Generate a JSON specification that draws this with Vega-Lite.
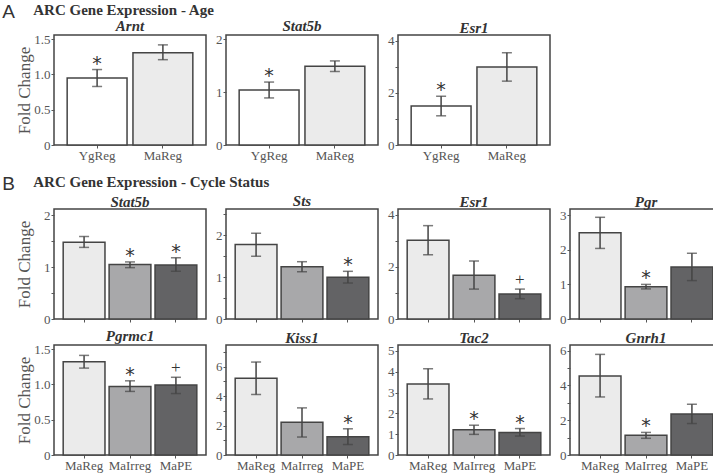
{
  "$schema": "https://vega.github.io/schema/vega-lite/v6.json",
  "padding": {"left": 2, "top": 3, "right": 0, "bottom": 0},
  "background": "white",
  "datasets": {
    "age": [
      {"gene": "Arnt", "group": "YgReg", "mean": 0.95, "lo": 0.83, "hi": 1.07, "sig": "*"},
      {"gene": "Arnt", "group": "MaReg", "mean": 1.31, "lo": 1.21, "hi": 1.42, "sig": ""},
      {"gene": "Stat5b", "group": "YgReg", "mean": 1.04, "lo": 0.89, "hi": 1.19, "sig": "*"},
      {"gene": "Stat5b", "group": "MaReg", "mean": 1.49, "lo": 1.39, "hi": 1.59, "sig": ""},
      {"gene": "Esr1", "group": "YgReg", "mean": 1.5, "lo": 1.12, "hi": 1.87, "sig": "*"},
      {"gene": "Esr1", "group": "MaReg", "mean": 2.99, "lo": 2.45, "hi": 3.54, "sig": ""}
    ],
    "cycle": [
      {"gene": "Stat5b", "group": "MaReg", "mean": 1.48, "lo": 1.38, "hi": 1.59, "sig": ""},
      {"gene": "Stat5b", "group": "MaIrreg", "mean": 1.05, "lo": 0.99, "hi": 1.1, "sig": "*"},
      {"gene": "Stat5b", "group": "MaPE", "mean": 1.04, "lo": 0.92, "hi": 1.18, "sig": "*"},
      {"gene": "Sts", "group": "MaReg", "mean": 1.78, "lo": 1.5, "hi": 2.05, "sig": ""},
      {"gene": "Sts", "group": "MaIrreg", "mean": 1.25, "lo": 1.13, "hi": 1.37, "sig": ""},
      {"gene": "Sts", "group": "MaPE", "mean": 1.0, "lo": 0.86, "hi": 1.14, "sig": "*"},
      {"gene": "Esr1", "group": "MaReg", "mean": 3.03, "lo": 2.47, "hi": 3.59, "sig": ""},
      {"gene": "Esr1", "group": "MaIrreg", "mean": 1.68, "lo": 1.15, "hi": 2.23, "sig": ""},
      {"gene": "Esr1", "group": "MaPE", "mean": 0.96, "lo": 0.78, "hi": 1.15, "sig": "+"},
      {"gene": "Pgr", "group": "MaReg", "mean": 2.49, "lo": 2.04, "hi": 2.94, "sig": ""},
      {"gene": "Pgr", "group": "MaIrreg", "mean": 0.93, "lo": 0.87, "hi": 1.0, "sig": "*"},
      {"gene": "Pgr", "group": "MaPE", "mean": 1.5, "lo": 1.11, "hi": 1.9, "sig": ""},
      {"gene": "Pgrmc1", "group": "MaReg", "mean": 1.32, "lo": 1.23, "hi": 1.41, "sig": ""},
      {"gene": "Pgrmc1", "group": "MaIrreg", "mean": 0.97, "lo": 0.9, "hi": 1.05, "sig": "*"},
      {"gene": "Pgrmc1", "group": "MaPE", "mean": 0.99, "lo": 0.87, "hi": 1.1, "sig": "+"},
      {"gene": "Kiss1", "group": "MaReg", "mean": 5.22, "lo": 4.11, "hi": 6.31, "sig": ""},
      {"gene": "Kiss1", "group": "MaIrreg", "mean": 2.22, "lo": 1.22, "hi": 3.2, "sig": ""},
      {"gene": "Kiss1", "group": "MaPE", "mean": 1.24, "lo": 0.71, "hi": 1.78, "sig": "*"},
      {"gene": "Tac2", "group": "MaReg", "mean": 3.41, "lo": 2.69, "hi": 4.14, "sig": ""},
      {"gene": "Tac2", "group": "MaIrreg", "mean": 1.21, "lo": 0.99, "hi": 1.43, "sig": "*"},
      {"gene": "Tac2", "group": "MaPE", "mean": 1.08, "lo": 0.91, "hi": 1.27, "sig": "*"},
      {"gene": "Gnrh1", "group": "MaReg", "mean": 4.55, "lo": 3.34, "hi": 5.79, "sig": ""},
      {"gene": "Gnrh1", "group": "MaIrreg", "mean": 1.13, "lo": 0.96, "hi": 1.3, "sig": "*"},
      {"gene": "Gnrh1", "group": "MaPE", "mean": 2.36, "lo": 1.81, "hi": 2.92, "sig": ""}
    ]
  },
  "spacing": 11,
  "vconcat": [
    {
      "title": {"text": "A", "font": "Liberation Sans", "fontSize": 19, "fontWeight": "normal", "fontStyle": "normal", "anchor": "start", "frame": "bounds", "color": "#333", "dx": -12, "dy": 19, "offset": 0},
      "vconcat": [
        {
          "title": {"text": "ARC Gene Expression - Age", "font": "Liberation Serif", "fontSize": 15, "fontWeight": "bold", "fontStyle": "normal", "anchor": "start", "frame": "bounds", "color": "#333", "dx": 19, "offset": 0},
          "spacing": 3,
          "hconcat": [
            {
              "title": {"text": "Arnt"},
              "width": 152, "height": 110,
              "data": {"name": "age"},
              "transform": [{"filter": "datum.gene == 'Arnt'"}],
              "encoding": {"x": {"field": "group", "type": "nominal", "sort": ["YgReg", "MaReg"], "title": null, "scale": {"paddingInner": 0.09, "paddingOuter": 0.2}}},
              "layer": [
                {"mark": {"type": "bar", "stroke": "#444", "strokeWidth": 1.5},
                 "encoding": {
                   "y": {"field": "mean", "type": "quantitative", "title": "Fold Change", "scale": {"domain": [0, 1.56], "nice": false}, "axis": {"values": [0, 0.5, 1, 1.5], "tickCount": 20, "labelOverlap": false, "labelExpr": "datum.value == 0 ? '0' : format(datum.value, '.1f')"}},
                   "fill": {"field": "group", "type": "nominal", "scale": {"domain": ["YgReg", "MaReg", "MaIrreg", "MaPE"], "range": ["#ffffff", "#ebebeb", "#a8a8aa", "#636365"]}, "legend": null}}},
                {"mark": {"type": "errorbar", "ticks": true, "size": 10, "thickness": 1.5, "color": "#444"},
                 "encoding": {"y": {"field": "lo", "type": "quantitative", "title": "Fold Change"}, "y2": {"field": "hi"}}},
                {"transform": [{"filter": "datum.sig == '*'"}], "mark": {"type": "text", "baseline": "alphabetic", "fontSize": 19, "font": "DejaVu Sans", "fill": "#333", "dy": 0},
                 "encoding": {"y": {"field": "hi", "type": "quantitative", "title": "Fold Change"}, "text": {"field": "sig"}}},
                {"transform": [{"filter": "datum.sig == '+'"}], "mark": {"type": "text", "baseline": "alphabetic", "fontSize": 17, "font": "Liberation Serif", "fill": "#333", "dy": -4},
                 "encoding": {"y": {"field": "hi", "type": "quantitative", "title": "Fold Change"}, "text": {"field": "sig"}}}
              ]
            },
            {
              "title": {"text": "Stat5b"},
              "width": 152, "height": 110,
              "data": {"name": "age"},
              "transform": [{"filter": "datum.gene == 'Stat5b'"}],
              "encoding": {"x": {"field": "group", "type": "nominal", "sort": ["YgReg", "MaReg"], "title": null, "scale": {"paddingInner": 0.09, "paddingOuter": 0.2}}},
              "layer": [
                {"mark": {"type": "bar", "stroke": "#444", "strokeWidth": 1.5},
                 "encoding": {
                   "y": {"field": "mean", "type": "quantitative", "title": null, "scale": {"domain": [0, 2.08], "nice": false}, "axis": {"values": [0, 1, 2], "tickCount": 20, "labelOverlap": false, "labelExpr": "format(datum.value, 'd')"}},
                   "fill": {"field": "group", "type": "nominal", "scale": {"domain": ["YgReg", "MaReg", "MaIrreg", "MaPE"], "range": ["#ffffff", "#ebebeb", "#a8a8aa", "#636365"]}, "legend": null}}},
                {"mark": {"type": "errorbar", "ticks": true, "size": 10, "thickness": 1.5, "color": "#444"},
                 "encoding": {"y": {"field": "lo", "type": "quantitative", "title": null}, "y2": {"field": "hi"}}},
                {"transform": [{"filter": "datum.sig == '*'"}], "mark": {"type": "text", "baseline": "alphabetic", "fontSize": 19, "font": "DejaVu Sans", "fill": "#333", "dy": 0},
                 "encoding": {"y": {"field": "hi", "type": "quantitative", "title": null}, "text": {"field": "sig"}}},
                {"transform": [{"filter": "datum.sig == '+'"}], "mark": {"type": "text", "baseline": "alphabetic", "fontSize": 17, "font": "Liberation Serif", "fill": "#333", "dy": -4},
                 "encoding": {"y": {"field": "hi", "type": "quantitative", "title": null}, "text": {"field": "sig"}}}
              ]
            },
            {
              "title": {"text": "Esr1"},
              "width": 152, "height": 110,
              "data": {"name": "age"},
              "transform": [{"filter": "datum.gene == 'Esr1'"}],
              "encoding": {"x": {"field": "group", "type": "nominal", "sort": ["YgReg", "MaReg"], "title": null, "scale": {"paddingInner": 0.09, "paddingOuter": 0.2}}},
              "layer": [
                {"mark": {"type": "bar", "stroke": "#444", "strokeWidth": 1.5},
                 "encoding": {
                   "y": {"field": "mean", "type": "quantitative", "title": null, "scale": {"domain": [0, 4.22], "nice": false}, "axis": {"values": [0, 1, 2, 3, 4], "tickCount": 20, "labelOverlap": false, "labelExpr": "datum.value % 2 == 0 ? format(datum.value, 'd') : ''"}},
                   "fill": {"field": "group", "type": "nominal", "scale": {"domain": ["YgReg", "MaReg", "MaIrreg", "MaPE"], "range": ["#ffffff", "#ebebeb", "#a8a8aa", "#636365"]}, "legend": null}}},
                {"mark": {"type": "errorbar", "ticks": true, "size": 10, "thickness": 1.5, "color": "#444"},
                 "encoding": {"y": {"field": "lo", "type": "quantitative", "title": null}, "y2": {"field": "hi"}}},
                {"transform": [{"filter": "datum.sig == '*'"}], "mark": {"type": "text", "baseline": "alphabetic", "fontSize": 19, "font": "DejaVu Sans", "fill": "#333", "dy": 0},
                 "encoding": {"y": {"field": "hi", "type": "quantitative", "title": null}, "text": {"field": "sig"}}},
                {"transform": [{"filter": "datum.sig == '+'"}], "mark": {"type": "text", "baseline": "alphabetic", "fontSize": 17, "font": "Liberation Serif", "fill": "#333", "dy": -4},
                 "encoding": {"y": {"field": "hi", "type": "quantitative", "title": null}, "text": {"field": "sig"}}}
              ]
            }
          ]
        }
      ]
    },
    {
      "title": {"text": "B", "font": "Liberation Sans", "fontSize": 19, "fontWeight": "normal", "fontStyle": "normal", "anchor": "start", "frame": "bounds", "color": "#333", "dx": -12, "dy": 19, "offset": 0},
      "vconcat": [
        {
          "title": {"text": "ARC Gene Expression - Cycle Status", "font": "Liberation Serif", "fontSize": 15, "fontWeight": "bold", "fontStyle": "normal", "anchor": "start", "frame": "bounds", "color": "#333", "dx": 19, "offset": 4},
          "spacing": 1,
          "vconcat": [
            {
              "spacing": 3,
              "hconcat": [
                {
                  "title": {"text": "Stat5b"},
                  "width": 152, "height": 110,
                  "data": {"name": "cycle"},
                  "transform": [{"filter": "datum.gene == 'Stat5b'"}],
                  "encoding": {"x": {"field": "group", "type": "nominal", "sort": ["MaReg", "MaIrreg", "MaPE"], "title": null, "axis": {"labels": false}, "scale": {"paddingInner": 0.09, "paddingOuter": 0.2}}},
                  "layer": [
                    {"mark": {"type": "bar", "stroke": "#444", "strokeWidth": 1.5},
                     "encoding": {
                       "y": {"field": "mean", "type": "quantitative", "title": "Fold Change", "scale": {"domain": [0, 2.12], "nice": false}, "axis": {"values": [0, 0.5, 1, 1.5, 2], "tickCount": 20, "labelOverlap": false, "labelExpr": "datum.value % 1 == 0 ? format(datum.value, 'd') : ''"}},
                       "fill": {"field": "group", "type": "nominal", "scale": {"domain": ["YgReg", "MaReg", "MaIrreg", "MaPE"], "range": ["#ffffff", "#ebebeb", "#a8a8aa", "#636365"]}, "legend": null}}},
                    {"mark": {"type": "errorbar", "ticks": true, "size": 10, "thickness": 1.5, "color": "#444"},
                     "encoding": {"y": {"field": "lo", "type": "quantitative", "title": "Fold Change"}, "y2": {"field": "hi"}}},
                    {"transform": [{"filter": "datum.sig == '*'"}], "mark": {"type": "text", "baseline": "alphabetic", "fontSize": 19, "font": "DejaVu Sans", "fill": "#333", "dy": 0},
                     "encoding": {"y": {"field": "hi", "type": "quantitative", "title": "Fold Change"}, "text": {"field": "sig"}}},
                    {"transform": [{"filter": "datum.sig == '+'"}], "mark": {"type": "text", "baseline": "alphabetic", "fontSize": 17, "font": "Liberation Serif", "fill": "#333", "dy": -4},
                     "encoding": {"y": {"field": "hi", "type": "quantitative", "title": "Fold Change"}, "text": {"field": "sig"}}}
                  ]
                },
                {
                  "title": {"text": "Sts"},
                  "width": 152, "height": 110,
                  "data": {"name": "cycle"},
                  "transform": [{"filter": "datum.gene == 'Sts'"}],
                  "encoding": {"x": {"field": "group", "type": "nominal", "sort": ["MaReg", "MaIrreg", "MaPE"], "title": null, "axis": {"labels": false}, "scale": {"paddingInner": 0.09, "paddingOuter": 0.2}}},
                  "layer": [
                    {"mark": {"type": "bar", "stroke": "#444", "strokeWidth": 1.5},
                     "encoding": {
                       "y": {"field": "mean", "type": "quantitative", "title": null, "scale": {"domain": [0, 2.63], "nice": false}, "axis": {"values": [0, 0.5, 1, 1.5, 2, 2.5], "tickCount": 20, "labelOverlap": false, "labelExpr": "datum.value % 1 == 0 ? format(datum.value, 'd') : ''"}},
                       "fill": {"field": "group", "type": "nominal", "scale": {"domain": ["YgReg", "MaReg", "MaIrreg", "MaPE"], "range": ["#ffffff", "#ebebeb", "#a8a8aa", "#636365"]}, "legend": null}}},
                    {"mark": {"type": "errorbar", "ticks": true, "size": 10, "thickness": 1.5, "color": "#444"},
                     "encoding": {"y": {"field": "lo", "type": "quantitative", "title": null}, "y2": {"field": "hi"}}},
                    {"transform": [{"filter": "datum.sig == '*'"}], "mark": {"type": "text", "baseline": "alphabetic", "fontSize": 19, "font": "DejaVu Sans", "fill": "#333", "dy": 0},
                     "encoding": {"y": {"field": "hi", "type": "quantitative", "title": null}, "text": {"field": "sig"}}},
                    {"transform": [{"filter": "datum.sig == '+'"}], "mark": {"type": "text", "baseline": "alphabetic", "fontSize": 17, "font": "Liberation Serif", "fill": "#333", "dy": -4},
                     "encoding": {"y": {"field": "hi", "type": "quantitative", "title": null}, "text": {"field": "sig"}}}
                  ]
                },
                {
                  "title": {"text": "Esr1"},
                  "width": 152, "height": 110,
                  "data": {"name": "cycle"},
                  "transform": [{"filter": "datum.gene == 'Esr1'"}],
                  "encoding": {"x": {"field": "group", "type": "nominal", "sort": ["MaReg", "MaIrreg", "MaPE"], "title": null, "axis": {"labels": false}, "scale": {"paddingInner": 0.09, "paddingOuter": 0.2}}},
                  "layer": [
                    {"mark": {"type": "bar", "stroke": "#444", "strokeWidth": 1.5},
                     "encoding": {
                       "y": {"field": "mean", "type": "quantitative", "title": null, "scale": {"domain": [0, 4.23], "nice": false}, "axis": {"values": [0, 1, 2, 3, 4], "tickCount": 20, "labelOverlap": false, "labelExpr": "datum.value % 2 == 0 ? format(datum.value, 'd') : ''"}},
                       "fill": {"field": "group", "type": "nominal", "scale": {"domain": ["YgReg", "MaReg", "MaIrreg", "MaPE"], "range": ["#ffffff", "#ebebeb", "#a8a8aa", "#636365"]}, "legend": null}}},
                    {"mark": {"type": "errorbar", "ticks": true, "size": 10, "thickness": 1.5, "color": "#444"},
                     "encoding": {"y": {"field": "lo", "type": "quantitative", "title": null}, "y2": {"field": "hi"}}},
                    {"transform": [{"filter": "datum.sig == '*'"}], "mark": {"type": "text", "baseline": "alphabetic", "fontSize": 19, "font": "DejaVu Sans", "fill": "#333", "dy": 0},
                     "encoding": {"y": {"field": "hi", "type": "quantitative", "title": null}, "text": {"field": "sig"}}},
                    {"transform": [{"filter": "datum.sig == '+'"}], "mark": {"type": "text", "baseline": "alphabetic", "fontSize": 17, "font": "Liberation Serif", "fill": "#333", "dy": -4},
                     "encoding": {"y": {"field": "hi", "type": "quantitative", "title": null}, "text": {"field": "sig"}}}
                  ]
                },
                {
                  "title": {"text": "Pgr"},
                  "width": 152, "height": 110,
                  "data": {"name": "cycle"},
                  "transform": [{"filter": "datum.gene == 'Pgr'"}],
                  "encoding": {"x": {"field": "group", "type": "nominal", "sort": ["MaReg", "MaIrreg", "MaPE"], "title": null, "axis": {"labels": false}, "scale": {"paddingInner": 0.09, "paddingOuter": 0.2}}},
                  "layer": [
                    {"mark": {"type": "bar", "stroke": "#444", "strokeWidth": 1.5},
                     "encoding": {
                       "y": {"field": "mean", "type": "quantitative", "title": null, "scale": {"domain": [0, 3.18], "nice": false}, "axis": {"values": [0, 1, 2, 3], "tickCount": 20, "labelOverlap": false, "labelExpr": "format(datum.value, 'd')"}},
                       "fill": {"field": "group", "type": "nominal", "scale": {"domain": ["YgReg", "MaReg", "MaIrreg", "MaPE"], "range": ["#ffffff", "#ebebeb", "#a8a8aa", "#636365"]}, "legend": null}}},
                    {"mark": {"type": "errorbar", "ticks": true, "size": 10, "thickness": 1.5, "color": "#444"},
                     "encoding": {"y": {"field": "lo", "type": "quantitative", "title": null}, "y2": {"field": "hi"}}},
                    {"transform": [{"filter": "datum.sig == '*'"}], "mark": {"type": "text", "baseline": "alphabetic", "fontSize": 19, "font": "DejaVu Sans", "fill": "#333", "dy": 0},
                     "encoding": {"y": {"field": "hi", "type": "quantitative", "title": null}, "text": {"field": "sig"}}},
                    {"transform": [{"filter": "datum.sig == '+'"}], "mark": {"type": "text", "baseline": "alphabetic", "fontSize": 17, "font": "Liberation Serif", "fill": "#333", "dy": -4},
                     "encoding": {"y": {"field": "hi", "type": "quantitative", "title": null}, "text": {"field": "sig"}}}
                  ]
                }
              ]
            },
            {
              "spacing": 3,
              "hconcat": [
                {
                  "title": {"text": "Pgrmc1"},
                  "width": 152, "height": 110,
                  "data": {"name": "cycle"},
                  "transform": [{"filter": "datum.gene == 'Pgrmc1'"}],
                  "encoding": {"x": {"field": "group", "type": "nominal", "sort": ["MaReg", "MaIrreg", "MaPE"], "title": null, "scale": {"paddingInner": 0.09, "paddingOuter": 0.2}}},
                  "layer": [
                    {"mark": {"type": "bar", "stroke": "#444", "strokeWidth": 1.5},
                     "encoding": {
                       "y": {"field": "mean", "type": "quantitative", "title": "Fold Change", "scale": {"domain": [0, 1.557], "nice": false}, "axis": {"values": [0, 0.5, 1, 1.5], "tickCount": 20, "labelOverlap": false, "labelExpr": "datum.value == 0 ? '0' : format(datum.value, '.1f')"}},
                       "fill": {"field": "group", "type": "nominal", "scale": {"domain": ["YgReg", "MaReg", "MaIrreg", "MaPE"], "range": ["#ffffff", "#ebebeb", "#a8a8aa", "#636365"]}, "legend": null}}},
                    {"mark": {"type": "errorbar", "ticks": true, "size": 10, "thickness": 1.5, "color": "#444"},
                     "encoding": {"y": {"field": "lo", "type": "quantitative", "title": "Fold Change"}, "y2": {"field": "hi"}}},
                    {"transform": [{"filter": "datum.sig == '*'"}], "mark": {"type": "text", "baseline": "alphabetic", "fontSize": 19, "font": "DejaVu Sans", "fill": "#333", "dy": 0},
                     "encoding": {"y": {"field": "hi", "type": "quantitative", "title": "Fold Change"}, "text": {"field": "sig"}}},
                    {"transform": [{"filter": "datum.sig == '+'"}], "mark": {"type": "text", "baseline": "alphabetic", "fontSize": 17, "font": "Liberation Serif", "fill": "#333", "dy": -4},
                     "encoding": {"y": {"field": "hi", "type": "quantitative", "title": "Fold Change"}, "text": {"field": "sig"}}}
                  ]
                },
                {
                  "title": {"text": "Kiss1"},
                  "width": 152, "height": 110,
                  "data": {"name": "cycle"},
                  "transform": [{"filter": "datum.gene == 'Kiss1'"}],
                  "encoding": {"x": {"field": "group", "type": "nominal", "sort": ["MaReg", "MaIrreg", "MaPE"], "title": null, "scale": {"paddingInner": 0.09, "paddingOuter": 0.2}}},
                  "layer": [
                    {"mark": {"type": "bar", "stroke": "#444", "strokeWidth": 1.5},
                     "encoding": {
                       "y": {"field": "mean", "type": "quantitative", "title": null, "scale": {"domain": [0, 7.47], "nice": false}, "axis": {"values": [0, 1, 2, 3, 4, 5, 6, 7], "tickCount": 20, "labelOverlap": false, "labelExpr": "datum.value % 2 == 0 ? format(datum.value, 'd') : ''"}},
                       "fill": {"field": "group", "type": "nominal", "scale": {"domain": ["YgReg", "MaReg", "MaIrreg", "MaPE"], "range": ["#ffffff", "#ebebeb", "#a8a8aa", "#636365"]}, "legend": null}}},
                    {"mark": {"type": "errorbar", "ticks": true, "size": 10, "thickness": 1.5, "color": "#444"},
                     "encoding": {"y": {"field": "lo", "type": "quantitative", "title": null}, "y2": {"field": "hi"}}},
                    {"transform": [{"filter": "datum.sig == '*'"}], "mark": {"type": "text", "baseline": "alphabetic", "fontSize": 19, "font": "DejaVu Sans", "fill": "#333", "dy": 0},
                     "encoding": {"y": {"field": "hi", "type": "quantitative", "title": null}, "text": {"field": "sig"}}},
                    {"transform": [{"filter": "datum.sig == '+'"}], "mark": {"type": "text", "baseline": "alphabetic", "fontSize": 17, "font": "Liberation Serif", "fill": "#333", "dy": -4},
                     "encoding": {"y": {"field": "hi", "type": "quantitative", "title": null}, "text": {"field": "sig"}}}
                  ]
                },
                {
                  "title": {"text": "Tac2"},
                  "width": 152, "height": 110,
                  "data": {"name": "cycle"},
                  "transform": [{"filter": "datum.gene == 'Tac2'"}],
                  "encoding": {"x": {"field": "group", "type": "nominal", "sort": ["MaReg", "MaIrreg", "MaPE"], "title": null, "scale": {"paddingInner": 0.09, "paddingOuter": 0.2}}},
                  "layer": [
                    {"mark": {"type": "bar", "stroke": "#444", "strokeWidth": 1.5},
                     "encoding": {
                       "y": {"field": "mean", "type": "quantitative", "title": null, "scale": {"domain": [0, 5.28], "nice": false}, "axis": {"values": [0, 1, 2, 3, 4, 5], "tickCount": 20, "labelOverlap": false, "labelExpr": "format(datum.value, 'd')"}},
                       "fill": {"field": "group", "type": "nominal", "scale": {"domain": ["YgReg", "MaReg", "MaIrreg", "MaPE"], "range": ["#ffffff", "#ebebeb", "#a8a8aa", "#636365"]}, "legend": null}}},
                    {"mark": {"type": "errorbar", "ticks": true, "size": 10, "thickness": 1.5, "color": "#444"},
                     "encoding": {"y": {"field": "lo", "type": "quantitative", "title": null}, "y2": {"field": "hi"}}},
                    {"transform": [{"filter": "datum.sig == '*'"}], "mark": {"type": "text", "baseline": "alphabetic", "fontSize": 19, "font": "DejaVu Sans", "fill": "#333", "dy": 0},
                     "encoding": {"y": {"field": "hi", "type": "quantitative", "title": null}, "text": {"field": "sig"}}},
                    {"transform": [{"filter": "datum.sig == '+'"}], "mark": {"type": "text", "baseline": "alphabetic", "fontSize": 17, "font": "Liberation Serif", "fill": "#333", "dy": -4},
                     "encoding": {"y": {"field": "hi", "type": "quantitative", "title": null}, "text": {"field": "sig"}}}
                  ]
                },
                {
                  "title": {"text": "Gnrh1"},
                  "width": 152, "height": 110,
                  "data": {"name": "cycle"},
                  "transform": [{"filter": "datum.gene == 'Gnrh1'"}],
                  "encoding": {"x": {"field": "group", "type": "nominal", "sort": ["MaReg", "MaIrreg", "MaPE"], "title": null, "scale": {"paddingInner": 0.09, "paddingOuter": 0.2}}},
                  "layer": [
                    {"mark": {"type": "bar", "stroke": "#444", "strokeWidth": 1.5},
                     "encoding": {
                       "y": {"field": "mean", "type": "quantitative", "title": null, "scale": {"domain": [0, 6.33], "nice": false}, "axis": {"values": [0, 1, 2, 3, 4, 5, 6], "tickCount": 20, "labelOverlap": false, "labelExpr": "datum.value % 2 == 0 ? format(datum.value, 'd') : ''"}},
                       "fill": {"field": "group", "type": "nominal", "scale": {"domain": ["YgReg", "MaReg", "MaIrreg", "MaPE"], "range": ["#ffffff", "#ebebeb", "#a8a8aa", "#636365"]}, "legend": null}}},
                    {"mark": {"type": "errorbar", "ticks": true, "size": 10, "thickness": 1.5, "color": "#444"},
                     "encoding": {"y": {"field": "lo", "type": "quantitative", "title": null}, "y2": {"field": "hi"}}},
                    {"transform": [{"filter": "datum.sig == '*'"}], "mark": {"type": "text", "baseline": "alphabetic", "fontSize": 19, "font": "DejaVu Sans", "fill": "#333", "dy": 0},
                     "encoding": {"y": {"field": "hi", "type": "quantitative", "title": null}, "text": {"field": "sig"}}},
                    {"transform": [{"filter": "datum.sig == '+'"}], "mark": {"type": "text", "baseline": "alphabetic", "fontSize": 17, "font": "Liberation Serif", "fill": "#333", "dy": -4},
                     "encoding": {"y": {"field": "hi", "type": "quantitative", "title": null}, "text": {"field": "sig"}}}
                  ]
                }
              ]
            }
          ]
        }
      ]
    }
  ],
  "resolve": {"scale": {"y": "independent", "x": "independent"}},
  "config": {
    "font": "Liberation Serif",
    "view": {"stroke": "#444", "strokeWidth": 1.5},
    "title": {"font": "Liberation Serif", "fontSize": 15, "fontWeight": "bold", "fontStyle": "italic", "color": "#333", "offset": -1, "anchor": "middle"},
    "axis": {"labelFont": "Liberation Serif", "labelFontSize": 13, "labelColor": "#555", "tickColor": "#555", "tickSize": 3, "grid": false, "domain": false, "labelOverlap": false, "titleFont": "Liberation Serif", "titleFontWeight": "normal", "titleColor": "#555"},
    "axisY": {"labelPadding": 1, "minExtent": 15, "maxExtent": 15, "titleFontSize": 17, "titlePadding": 6, "tickCount": 20},
    "axisX": {"labelAngle": 0, "labelPadding": 1, "labelFontSize": 13}
  }
}
